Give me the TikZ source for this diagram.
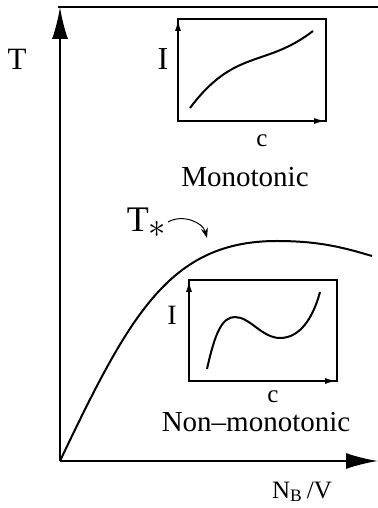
\documentclass[tikz,border=0pt]{standalone}
\usepackage{fontspec}
\setmainfont{Liberation Serif}
\usetikzlibrary{arrows.meta}

\begin{document}
\begin{tikzpicture}[x=0.5pt,y=0.5pt,line width=1pt,
    every node/.style={inner sep=0pt,anchor=base},
    bigtip/.style={-{Latex[length=16pt,width=8pt]}},
    smalltip/.style={-{Latex[length=6pt,width=3pt]}},
    lbl/.style={font=\fontsize{#1}{#1}\selectfont}]
    \useasboundingbox (0,0) rectangle (378,508);
    % main axes
    \draw (58,501) -- (378,501);
    \draw[bigtip] (60,47) -- (60,501);
    \draw[bigtip] (60,47) -- (378,47);
    \node[lbl=15.5] (tlbl) at (17,438) {T};
    \node[lbl=12.5] (nlbl) at (302,10) {N\textsubscript{B}\,/V};
    % transition line
    \draw (60,47) .. controls (130,194) and (170,267) .. (277,267)
      .. controls (320,267) and (345,260) .. (372,252);
    \node[lbl=18] (tstar) at (147,276) {T$_{\textstyle\ast}$};
    \coordinate (thead) at (207,270);
    \draw[line width=.5pt,-{Stealth[length=5pt,width=3.5pt]}] (168,286)
      to[out=30,in=105] (thead);
    % monotonic inset
    \draw (178,387) rectangle (326,489);
    \draw[smalltip] (178,387) -- (178,489);
    \draw[smalltip] (178,387) -- (326,387);
    \draw (190,400) .. controls (235,460) and (265,440) .. (313,477);
    \node[lbl=16] (imono) at (163,438) {I};
    \node[lbl=12.5] (cmono) at (262,361) {c};
    \node[lbl=14.5] (mono) at (245,321) {Monotonic};
    % non-monotonic inset
    \draw (189,127) rectangle (337,228);
    \draw[smalltip] (189,127) -- (189,228);
    \draw[smalltip] (189,127) -- (337,127);
    \draw (207,139) .. controls (215,175) and (222,191) .. (235,191)
      .. controls (250,191) and (262,170) .. (280,170)
      .. controls (300,170) and (313,190) .. (320,216);
    \node[lbl=14] (inon) at (172,183) {I};
    \node[lbl=12.5] (cnon) at (273,105) {c};
    \node[lbl=14.5] (nonmono) at (256,76) {Non--monotonic};
  \end{tikzpicture}
\end{document}
